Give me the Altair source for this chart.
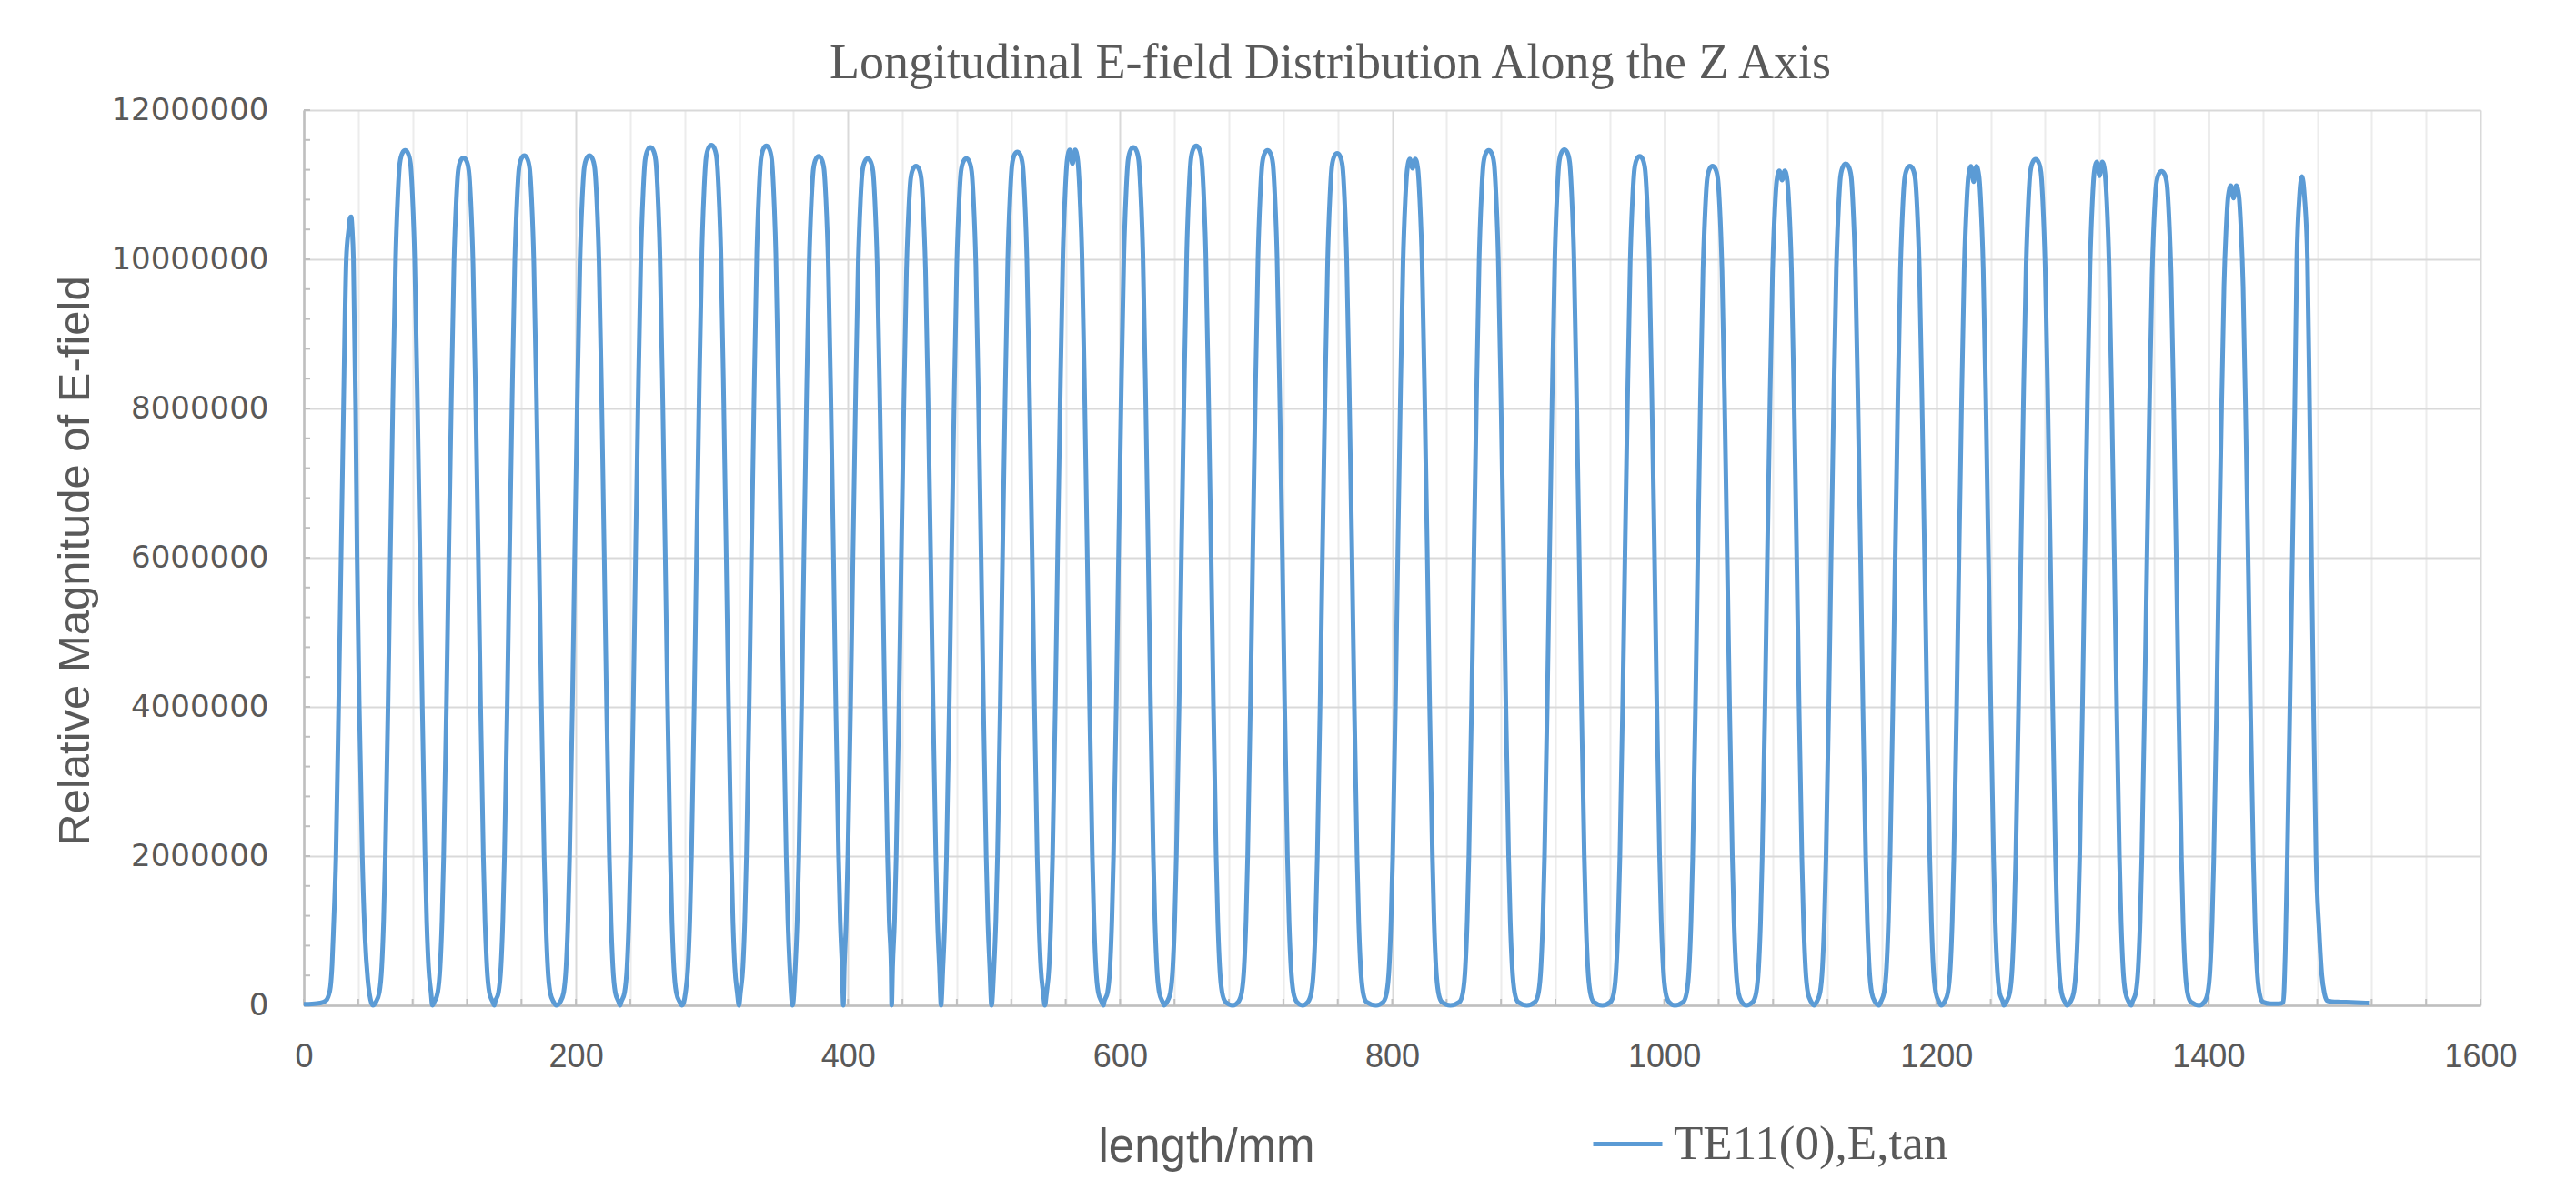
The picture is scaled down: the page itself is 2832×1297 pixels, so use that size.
import altair as alt
import pandas as pd

TITLE = "Longitudinal E-field Distribution Along the Z Axis"
X_TITLE = "length/mm"
Y_TITLE = "Relative Magnitude of E-field"
SERIES = "TE11(0),E,tan"

x_grid_values = list(range(0, 1601, 40))
y_axis_values = list(range(0, 12000001, 2000000))
y_minor_ticks = list(range(0, 12000001, 400000))

# peak positions (mm) and peak values (millions) of each lobe
peak_x = [34.8, 74.5, 117.4, 162.1, 210.0, 254.8, 299.6, 340.0, 378.5, 414.5,
          450.0, 487.0, 524.5, 565.0, 609.8, 656.0, 708.4, 759.6, 815.0, 871.0,
          926.6, 982.0, 1035.5, 1086.6, 1133.5, 1180.6, 1227.5, 1273.0, 1320.0, 1365.6,
          1418.5, 1469.8]
peak_v = [10.57, 11.46, 11.36, 11.39, 11.39, 11.50, 11.53, 11.52, 11.38, 11.35,
          11.25, 11.35, 11.44, 11.50, 11.50, 11.52, 11.46, 11.42, 11.38, 11.46,
          11.47, 11.38, 11.25, 11.22, 11.28, 11.25, 11.28, 11.34, 11.34, 11.18,
          11.02, 11.11]
# dip at the top of M-shaped lobes (millions), 0 = no dip
notch_v = [0, 0, 0, 0, 0, 0, 0, 0, 0, 0,
           0, 0, 0, 11.28, 0, 0, 0, 0, 11.22, 0,
           0, 0, 0, 11.06, 0, 0, 11.04, 0, 11.12, 0,
           10.82, 0]
# troughs between lobes (mm) and their values (millions)
min_x = [50.8, 94.5, 140.0, 185.6, 232.5, 278.1, 319.9, 359.3, 396.6, 432.1,
         468.4, 505.5, 544.7, 587.8, 632.5, 682.9, 734.1, 788.2, 842.8, 899.1,
         954.5, 1007.8, 1060.3, 1110.2, 1157.9, 1203.6, 1249.6, 1296.0, 1343.3, 1393.3,
         1446.0]
min_v = [0.0] * 30 + [0.02]

# lobe profile read from the lobes near 70 mm and 380 mm: distance from peak (mm), fraction of peak
profile_d = [0.0, 2.0, 3.9, 5.3, 7.0, 9.1, 10.9, 12.6, 14.6, 15.8, 17.2, 19.0, 21.5]
profile_f = [1.0, 0.997, 0.985, 0.95, 0.875, 0.70, 0.525, 0.35, 0.175, 0.10, 0.045, 0.015, 0.004]

# first (sharp) lobe with the flat start
start_x = [0, 6, 12, 16, 18, 19.6, 20.8, 21.8, 23.6, 25.6, 27.4, 29.2, 31.2, 33.0, 34.0,
           34.8, 35.6, 36.5, 38.1, 39.2, 40.8, 43.0, 45.0, 47.0, 49.0]
start_v = [0.015, 0.018, 0.03, 0.06, 0.12, 0.25, 0.55, 1.0, 2.0, 4.0, 6.0, 8.0, 10.0, 10.4, 10.55,
           10.57, 10.4, 10.0, 8.0, 6.0, 4.0, 2.0, 0.9, 0.35, 0.08]
# last (sharp) lobe with the flat tail
end_x = [1452.0, 1455.0, 1456.5, 1458.0, 1459.9, 1461.7, 1463.5, 1465.0, 1466.8, 1468.8,
         1470.6, 1472.8, 1474.4, 1475.8, 1477.3, 1479.1, 1481.4, 1483.4, 1485.3, 1487.5,
         1495.0, 1505.0, 1512.0, 1518.0]
end_v = [0.02, 0.04, 0.7, 2.0, 4.0, 6.0, 8.0, 10.0, 10.8, 11.11,
         10.85, 10.0, 8.0, 6.0, 4.0, 2.0, 1.0, 0.4, 0.16, 0.06,
         0.045, 0.04, 0.035, 0.03]

rows = []


def add(x, v):
    rows.append({"z": x, "e": v * 1e6, "series": SERIES})


for x, v in zip(start_x, start_v):
    add(x, v)
n = len(peak_x)
pairs = list(zip(profile_d[1:], profile_f[1:]))
for i in range(1, n - 1):
    left, right = min_x[i - 1], min_x[i]
    p, v, nv = peak_x[i], peak_v[i], notch_v[i]
    add(left, min_v[i - 1])
    for d, f in reversed(pairs):
        if p - d > left + 0.4:
            add(p - d, v * f)
    add(p, nv if nv > 0 else v)
    for d, f in pairs:
        if p + d < right - 0.4:
            add(p + d, v * f)
add(min_x[-1], min_v[-1])
for x, v in zip(end_x, end_v):
    add(x, v)

df = pd.DataFrame(rows)

W, H = 2393, 984
TXT = "#595959"

x_scale = alt.Scale(domain=[0, 1600], nice=False, zero=False)
y_scale = alt.Scale(domain=[0, 12000000], nice=False)

x_axis = alt.Axis(
    values=x_grid_values,
    labelExpr="datum.value % 200 === 0 ? datum.label : ''",
    format="d",
    grid=True,
    gridColor={"condition": {"test": "datum.value % 200 === 0", "value": "#d9d9d9"}, "value": "#ececec"},
    gridWidth=2,
    tickSize=0,
    domainColor="#bfbfbf",
    domainWidth=2.5,
    labelFont="Liberation Sans",
    labelFontSize=36,
    labelColor=TXT,
    labelPadding=39,
    labelOverlap=False,
    labelFlush=False,
    title=X_TITLE,
    titleFont="Liberation Sans",
    titleFontSize=51,
    titleFontWeight="normal",
    titleColor=TXT,
    titleX=992,
    titleY=171,
    titleBaseline="alphabetic",
    titleAlign="center",
)

y_axis = alt.Axis(
    values=y_axis_values,
    format="d",
    grid=True,
    gridColor="#d9d9d9",
    gridWidth=2,
    tickSize=0,
    domainColor="#bfbfbf",
    domainWidth=2.5,
    labelFont="DejaVu Sans",
    labelFontSize=34,
    labelColor=TXT,
    labelPadding=39,
    labelOverlap=False,
    labelFlush=False,
    title=Y_TITLE,
    titleFont="Liberation Sans",
    titleFontSize=49,
    titleFontWeight="normal",
    titleColor=TXT,
    titleX=-237,
    titleY=495,
    titleAngle=270,
    titleBaseline="alphabetic",
    titleAlign="center",
)

line = alt.Chart(df).mark_line(strokeWidth=5, interpolate="monotone").encode(
    x=alt.X("z:Q", scale=x_scale, axis=x_axis),
    y=alt.Y("e:Q", scale=y_scale, axis=y_axis),
    color=alt.Color(
        "series:N",
        scale=alt.Scale(domain=[SERIES], range=["#5B9BD5"]),
        legend=alt.Legend(
            title=None,
            orient="none",
            legendX=1415,
            legendY=1096,
            symbolType="stroke",
            symbolSize=5776,
            symbolStrokeWidth=5,
            labelFont="Liberation Serif",
            labelFontSize=53,
            labelColor=TXT,
            labelOffset=10,
            labelLimit=1000,
            padding=0,
        ),
    ),
)

y_ticks = alt.Chart(pd.DataFrame({"e": y_minor_ticks})).mark_rule(color="#bfbfbf", strokeWidth=2).encode(
    y=alt.Y("e:Q", scale=y_scale),
    x=alt.value(0),
    x2=alt.value(7),
)
x_ticks = alt.Chart(pd.DataFrame({"z": x_grid_values})).mark_rule(color="#bfbfbf", strokeWidth=2).encode(
    x=alt.X("z:Q", scale=x_scale),
    y=alt.value(H),
    y2=alt.value(H - 7),
)

chart = alt.layer(y_ticks, x_ticks, line).properties(
    width=W,
    height=H,
    title=alt.TitleParams(
        TITLE,
        font="Liberation Serif",
        fontSize=54,
        fontWeight="normal",
        color=TXT,
        frame="group",
        anchor="middle",
        dx=-68,
        dy=52,
        offset=16,
        baseline="alphabetic",
    ),
    padding={"left": 326, "top": 113, "right": 97, "bottom": 184},
    autosize=alt.AutoSizeParams(type="none"),
).configure_view(stroke="transparent").configure(background="white")

chart.save("out.html", embed_options={"renderer": "svg", "actions": False})
